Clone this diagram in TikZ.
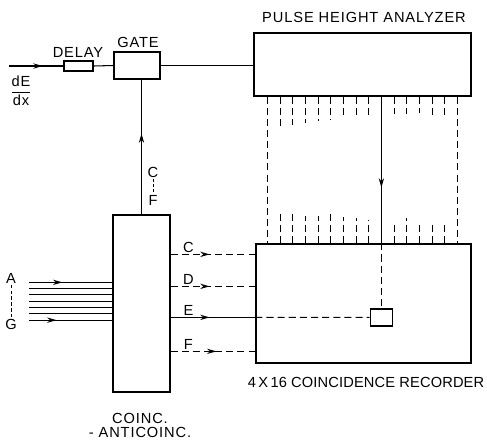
\documentclass[tikz,border=0pt]{standalone}
\usepackage{fontspec}
\setmainfont{Liberation Sans}[LetterSpace=6]
\usetikzlibrary{arrows.meta,decorations.markings,calc}
\tikzset{
  blk/.style={
    draw,
    line width=1.1pt,
    inner sep=0pt
  },
  lbl/.style={
    font=\fontsize{12.5}{14}\selectfont,
    inner sep=1pt
  },
  dsh/.style={
    dash pattern=on 6pt off 3.5pt
  },
  midarrow/.style={
    postaction={decorate},
    decoration={markings, mark=at position #1 with {\arrow{Stealth[length=8pt,width=4.5pt]}}}
  },
  every picture/.style={
    x=0.03cm,
    y=-0.03cm,
    line width=0.9pt
  }
}

\begin{document}
\begin{tikzpicture}
  \useasboundingbox (0,0) rectangle (487,440);
  % boxes
  \node[blk, minimum width=6.51cm, minimum height=1.89cm] (pha) at (362.5,64.5) {};
  \node[blk, minimum width=6.45cm, minimum height=3.57cm] (rec) at (363.5,303.5) {};
  \node[blk, minimum width=1.38cm, minimum height=0.81cm] (gate) at (137,65.5) {};
  \node[blk, minimum width=0.87cm, minimum height=0.30cm] (delay) at (78.5,66) {};
  \node[blk, minimum width=1.71cm, minimum height=5.31cm] (coinc) at (141.5,303.5) {};
  % labels
  \node[lbl] (phatext) at (364,17) {PULSE HEIGHT ANALYZER};
  \node[lbl] (rectext) at (366,382) {\addfontfeature{LetterSpace=1}4\,X\,16 COINCIDENCE RECORDER};
  \node[lbl] (gatetext) at (138,42) {GATE};
  \node[lbl] (delaytext) at (78,52) {DELAY};
  \node[lbl, align=center] (cointext) at (140,425) {COINC.\\[-2pt]- ANTICOINC.};
  \node[lbl] (dedx) at (21,91) {$\displaystyle\frac{\mbox{dE}}{\mbox{dx}}$};
  % dE/dx input line
  \coordinate (in) at (9,66);
  \draw[midarrow=0.62] (in) -- (delay.west);
  \draw (delay.east) -- (gate.west);
  \draw (gate.east) -- (gate.east -| pha.west);
  % coinc output to gate
  \draw[midarrow=0.6] (coinc.north) -- (coinc.north |- gate.south);
  \node[lbl] (cc) at (153,172) {C};
  \node[lbl] (cf) at (153,200) {F};
  \draw[dash pattern=on 2.5pt off 2pt, line width=0.6pt] (cc.south) -- (cf.north);
  % inputs A..G
  \node[lbl] (la) at (11,278) {A};
  \node[lbl] (lg) at (11,324) {G};
  \draw[dash pattern=on 3pt off 2pt, line width=0.6pt] (la.south) -- (lg.north);
  \foreach \i in {0,...,6} {
    \coordinate (a\i) at ($(coinc.north west)+(0,68+\i*6.3)$);
    \coordinate (s\i) at (29,0 |- a\i);
  }
  \draw[midarrow=0.40] (s0) -- (a0);
  \foreach \i in {1,...,5} \draw (s\i) -- (a\i);
  \draw[midarrow=0.33] (s6) -- (a6);
  % outputs C..F
  \foreach \n/\d in {c/40, d/72, e/103, f/137} {
    \coordinate (o\n) at ($(coinc.north east)+(0,\d)$);
    \coordinate (r\n) at (o\n -| rec.west);
  }
  \draw[dsh, midarrow=0.46] (oc) -- node[lbl, above, pos=0.21] (lc) {C} (rc);
  \draw[dsh, midarrow=0.46] (od) -- node[lbl, above, pos=0.21] (ld) {D} (rd);
  \draw[midarrow=0.46] (oe) -- node[lbl, above, pos=0.21] (le) {E} (re);
  \draw[dsh, midarrow=0.54] (of) -- node[lbl, above, pos=0.21] (lf) {F} (rf);
  % pha channels to recorder
  \foreach \i in {0,...,15} {
    \coordinate (t\i) at ($(pha.south west)+(14+\i*12.67,0)$);
    \coordinate (b\i) at (t\i |- rec.north);
  }
  \draw[dsh] (t0) -- (b0);
  \draw[dsh] (t15) -- (b15);
  \foreach \i/\u/\l in {1/31/31, 2/28/30, 3/26/27, 4/24/27, 5/23/29, 6/22/26, 7/21/25, 8/19/23,
                        10/17/20, 11/17/25, 12/16/22, 13/18/22, 14/19/21} {
    \draw[dsh] (t\i) -- ++(0,\u);
    \draw[dsh] (b\i) -- ++(0,-\l);
  }
  \draw[midarrow=0.62] (t9) -- (b9);
  % selected cell
  \node[blk, minimum width=0.66cm, minimum height=0.51cm] (cell) at ($(b9)+(0,74)$) {};
  \draw[dsh] (b9) -- (cell.north);
  \draw[dsh] (re) -- (cell.west);
\end{tikzpicture}
\end{document}
